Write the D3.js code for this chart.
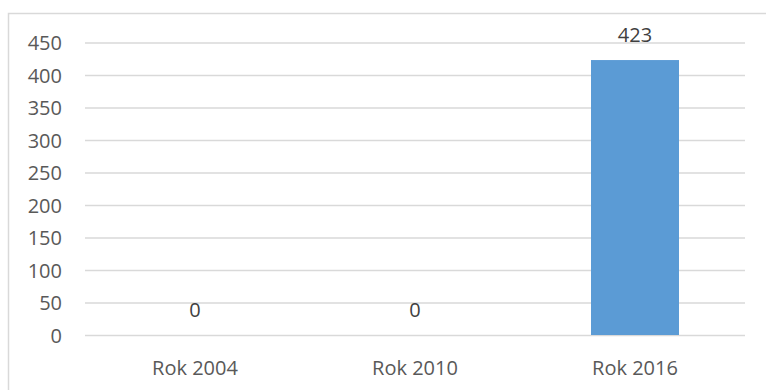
<!DOCTYPE html>
<html>
<head>
<meta charset="utf-8">
<script src="https://cdn.jsdelivr.net/npm/d3@7"></script>
<style>
  html, body { margin: 0; padding: 0; background: #fff; }
  svg { display: block; }
</style>
</head>
<body>
<div id="chart"></div>
<script>
const categories = ["Rok 2004", "Rok 2010", "Rok 2016"];
const values = [0, 0, 423];
const yTicks = [0, 50, 100, 150, 200, 250, 300, 350, 400, 450];

const width = 766;
const height = 390;
const font = "'Open Sans', 'Noto Sans', sans-serif";
const textColor = "#595959";

const svg = d3.select("#chart")
  .append("svg")
  .attr("width", width)
  .attr("height", height);

// outer frame
svg.append("rect")
  .attr("x", 8.5)
  .attr("y", 13.5)
  .attr("width", 800)
  .attr("height", 400)
  .attr("fill", "#fff")
  .attr("stroke", "#d9d9d9")
  .attr("stroke-width", 1.5);

const x = d3.scaleBand()
  .domain(categories)
  .range([85, 745])
  .paddingInner(0.6)
  .paddingOuter(0.3);

const y = d3.scaleLinear()
  .domain([0, 450])
  .range([335, 42.5]);

// grid
const grid = svg.append("g")
  .attr("transform", "translate(85,0)")
  .call(d3.axisLeft(y).tickValues(yTicks).tickSize(-660).tickFormat(""));
grid.select(".domain").remove();
grid.selectAll("line")
  .attr("stroke", "#d9d9d9")
  .attr("stroke-width", 1.6);

// y labels
const yAxis = svg.append("g")
  .attr("transform", "translate(62,0)")
  .call(d3.axisLeft(y).tickValues(yTicks).tickSize(0).tickPadding(0));
yAxis.select(".domain").remove();
yAxis.selectAll("text")
  .attr("font-family", font)
  .attr("font-size", 20)
  .attr("fill", textColor)
  .attr("dy", "0.36em");

// x labels
const xAxis = svg.append("g")
  .attr("transform", "translate(0,335)")
  .call(d3.axisBottom(x).tickSize(0).tickPadding(0));
xAxis.select(".domain").remove();
xAxis.selectAll("text")
  .attr("font-family", font)
  .attr("font-size", 20)
  .attr("fill", textColor)
  .attr("dy", null)
  .attr("y", 40);

// bars
svg.selectAll(".bar")
  .data(values)
  .enter()
  .append("rect")
  .attr("class", "bar")
  .attr("x", (d, i) => x(categories[i]))
  .attr("width", x.bandwidth())
  .attr("y", d => y(d))
  .attr("height", d => y(0) - y(d))
  .attr("fill", "#5b9bd5");

// value labels
svg.selectAll(".bar-label")
  .data(values)
  .enter()
  .append("text")
  .attr("class", "bar-label")
  .attr("text-anchor", "middle")
  .attr("x", (d, i) => x(categories[i]) + x.bandwidth() / 2)
  .attr("y", d => y(d) - 18)
  .attr("font-family", font)
  .attr("font-size", 20)
  .attr("fill", "#404040")
  .text(d => d);
</script>
</body>
</html>
